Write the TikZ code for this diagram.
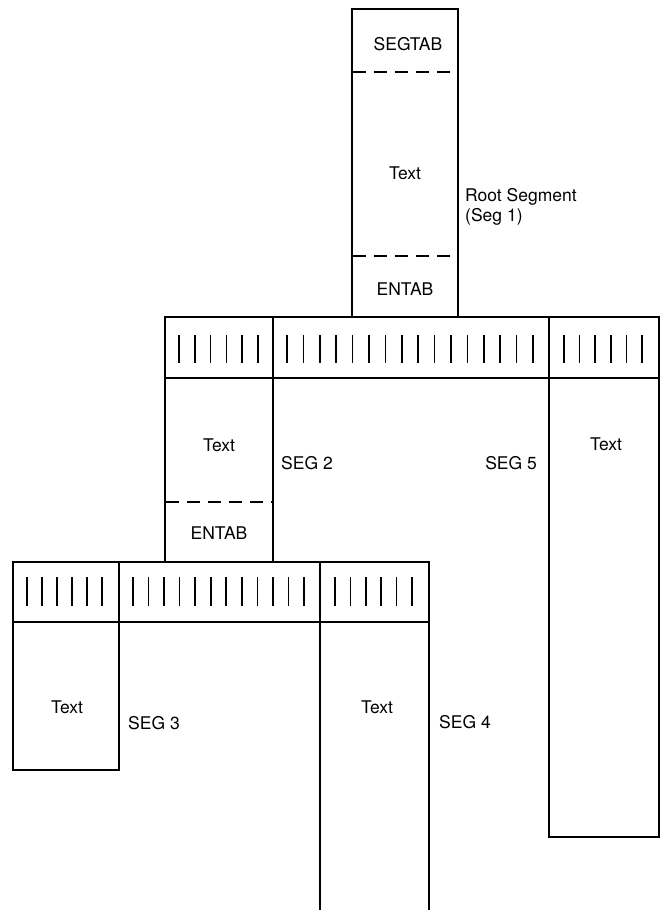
\documentclass[tikz,border=0pt]{standalone}
\usepackage{fontspec}
\setmainfont{TeX Gyre Heros}
\tikzset{
  x=1pt, y=-1pt,
  outline/.style={line width=2pt, line join=miter},
  thin/.style={line width=1.5pt},
  tick/.style={line width=1.6pt},
  sep/.style={line width=1.5pt, dash pattern=on 13pt off 8pt},
  lbl/.style={font=\fontsize{17.5}{20}\selectfont, inner sep=0pt},
}
\newcommand{\tickrow}[5]{% #1 first x, #2 last x, #3 count, #4 top y, #5 bottom y
  \pgfmathsetmacro{\tkstep}{(#2-#1)/(#3-1)}
  \pgfmathtruncatemacro{\tklast}{#3-1}
  \foreach \i in {0,...,\tklast}{
    \draw[tick] ({#1+\i*\tkstep},#4) -- ({#1+\i*\tkstep},#5);
  }
}
\begin{document}
\begin{tikzpicture}
\useasboundingbox (0,0) rectangle (663,910);
% root segment
\draw[outline] (352,317) -- (352,9) -- (458,9) -- (458,317);
\draw[sep] (353,72) -- (457,72);
\draw[sep] (353,256) -- (457,256);
\node[lbl] (segtab) at (408,44) {SEGTAB};
\node[lbl] (t1) at (405,173) {Text};
\node[lbl] (entab1) at (405,289) {ENTAB};
\node[lbl, anchor=west, align=left] (root) at (465,207) {Root Segment\\(Seg 1)};
% upper bar
\draw[outline] (165,317) rectangle (659,378);
\draw[thin] (273,317) -- (273,378);
\draw[thin] (549,317) -- (549,378);
\tickrow{179}{258}{6}{335}{363}
\tickrow{287}{533}{16}{335}{363}
\tickrow{564}{642}{6}{335}{363}
% seg 2
\draw[outline] (165,378) -- (165,562);
\draw[outline] (273,378) -- (273,562);
\draw[sep] (166,502) -- (272,502);
\node[lbl] (t2) at (219,445) {Text};
\node[lbl] (entab2) at (219,533) {ENTAB};
\node[lbl, anchor=west] (seg2) at (281,463) {SEG 2};
% seg 5
\draw[outline] (549,378) -- (549,837) -- (659,837) -- (659,378);
\node[lbl] (t5) at (606,444) {Text};
\node[lbl, anchor=east] (seg5) at (537,463) {SEG 5};
% lower bar
\draw[outline] (13,562) rectangle (429,622);
\draw[thin] (119,562) -- (119,622);
\draw[thin] (320,562) -- (320,622);
\tickrow{27}{102}{6}{577}{606}
\tickrow{133}{304}{12}{577}{606}
\tickrow{335}{412}{6}{577}{606}
% seg 3
\draw[outline] (13,622) -- (13,770) -- (119,770) -- (119,622);
\node[lbl] (t3) at (67,707) {Text};
\node[lbl, anchor=west] (seg3) at (128,723) {SEG 3};
% seg 4
\draw[outline] (320,622) -- (320,910);
\draw[outline] (429,622) -- (429,910);
\node[lbl] (t4) at (377,707) {Text};
\node[lbl, anchor=west] (seg4) at (439,722) {SEG 4};
\end{tikzpicture}
\end{document}
